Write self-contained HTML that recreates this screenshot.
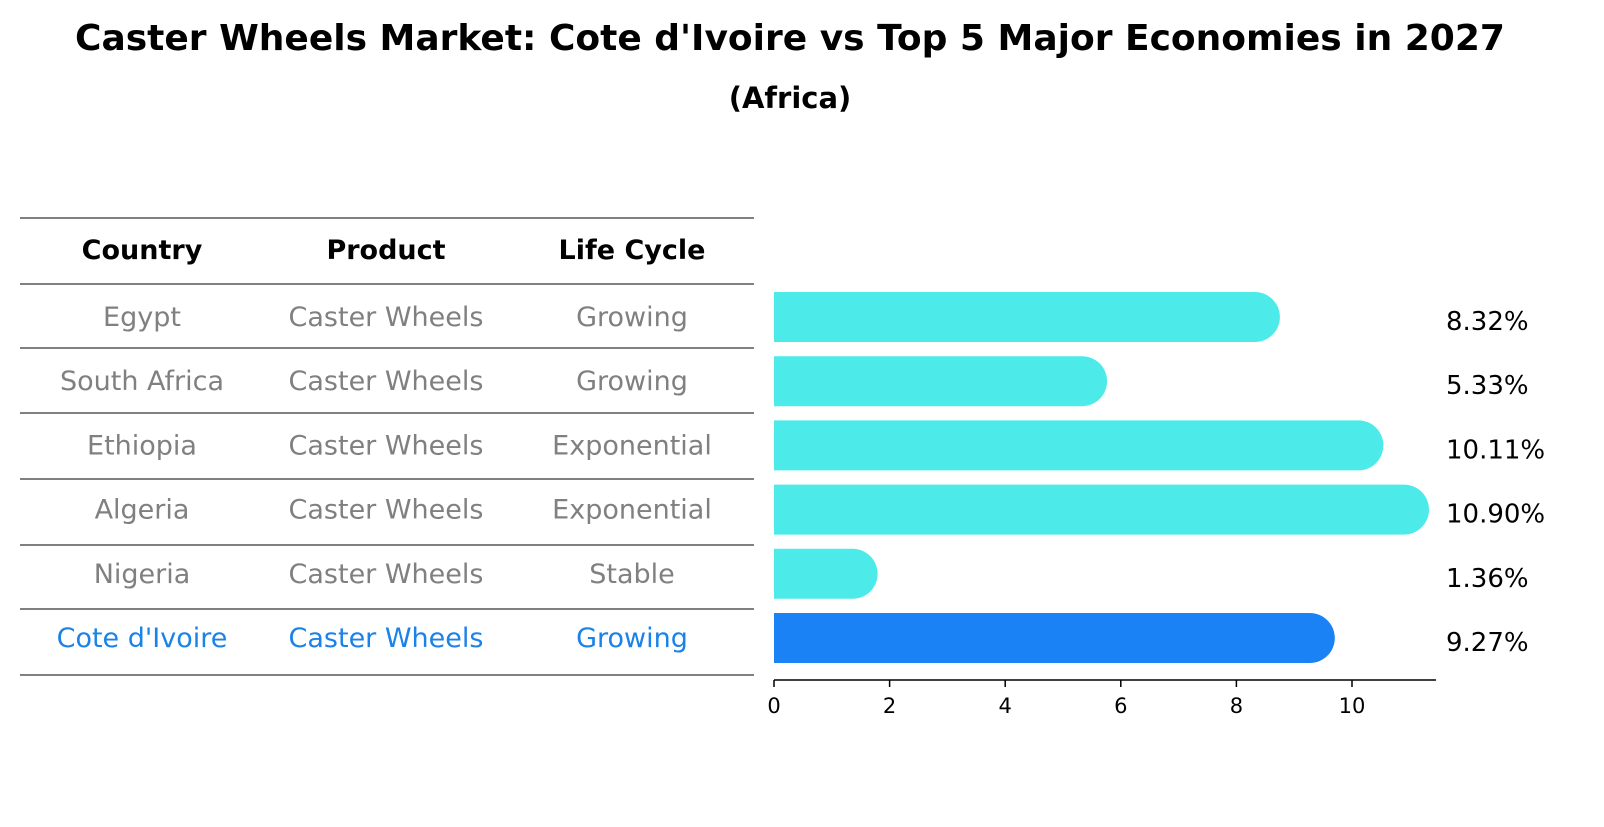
<!DOCTYPE html>
<html><head><meta charset="utf-8"><style>
body{margin:0;background:#fff;font-family:"DejaVu Sans","Liberation Sans",sans-serif;}
svg text{font-family:"DejaVu Sans","Liberation Sans",sans-serif;}
</style></head><body>
<svg width="1604" height="823" xmlns="http://www.w3.org/2000/svg" id="chart">
<text x="790" y="50" text-anchor="middle" font-size="36" font-weight="bold">Caster Wheels Market: Cote d'Ivoire vs Top 5 Major Economies in 2027</text>
<text x="790" y="108" text-anchor="middle" font-size="29" font-weight="bold">(Africa)</text>
<g id="table"></g>
<g id="bars"></g>
<g id="axis"></g>
</svg>
<script>
const countries=["Egypt","South Africa","Ethiopia","Algeria","Nigeria","Cote d'Ivoire"];
const products=["Caster Wheels","Caster Wheels","Caster Wheels","Caster Wheels","Caster Wheels","Caster Wheels"];
const lifecycles=["Growing","Growing","Exponential","Exponential","Stable","Growing"];
const values=[8.32,5.33,10.11,10.90,1.36,9.27];
const ticks=[0,2,4,6,8,10];
const NS="http://www.w3.org/2000/svg";
function mk(tag,attrs,parent,text){const e=document.createElementNS(NS,tag);for(const k in attrs)e.setAttribute(k,attrs[k]);if(text!==undefined)e.textContent=text;parent.appendChild(e);return e;}
const x=v=>774+v*57.8;
const rowY=i=>317+i*64.2;
const table=document.getElementById('table'),bars=document.getElementById('bars'),axis=document.getElementById('axis');
const lines=[218,284,348,413,479,545,609,675];
lines.forEach(y=>{const l=mk('line',{x1:20,x2:754,y1:y,y2:y,stroke:'#000','stroke-width':1},table);

});
const cols=[142,386,632];
["Country","Product","Life Cycle"].forEach((h,j)=>{const t=mk('text',{x:cols[j],y:259,'text-anchor':'middle','font-size':27,'font-weight':'bold'},table,h);

});
countries.forEach((c,i)=>{
 const col=i===countries.length-1?'#1a82e8':'#808080';
 [c,products[i],lifecycles[i]].forEach((v,j)=>{const t=mk('text',{x:cols[j],y:rowY(i)+9,'text-anchor':'middle','font-size':27,fill:col},table,v);
 
 });
 const h=50,r=25,y0=rowY(i)-h/2,xe=x(values[i]);
 const p=mk('path',{d:`M${x(0)},${y0} H${xe} A${r},${r} 0 0 1 ${xe},${y0+h} H${x(0)} Z`,fill:i===countries.length-1?'#1a82f5':'#4deaea'},bars);
 
 
 const t=mk('text',{x:1446,y:rowY(i)+13,'font-size':26,fill:'#000'},bars,values[i].toFixed(2)+'%');
 
 
});
const al=mk('line',{x1:774,x2:1436,y1:680,y2:680,stroke:'#000','stroke-width':1.5},axis);


ticks.forEach(v=>{const l=mk('line',{x1:x(v),x2:x(v),y1:680,y2:687,stroke:'#000','stroke-width':1.5},axis);


const t=mk('text',{x:x(v),y:713,'text-anchor':'middle','font-size':21},axis,String(v));

});
</script>
</body></html>
